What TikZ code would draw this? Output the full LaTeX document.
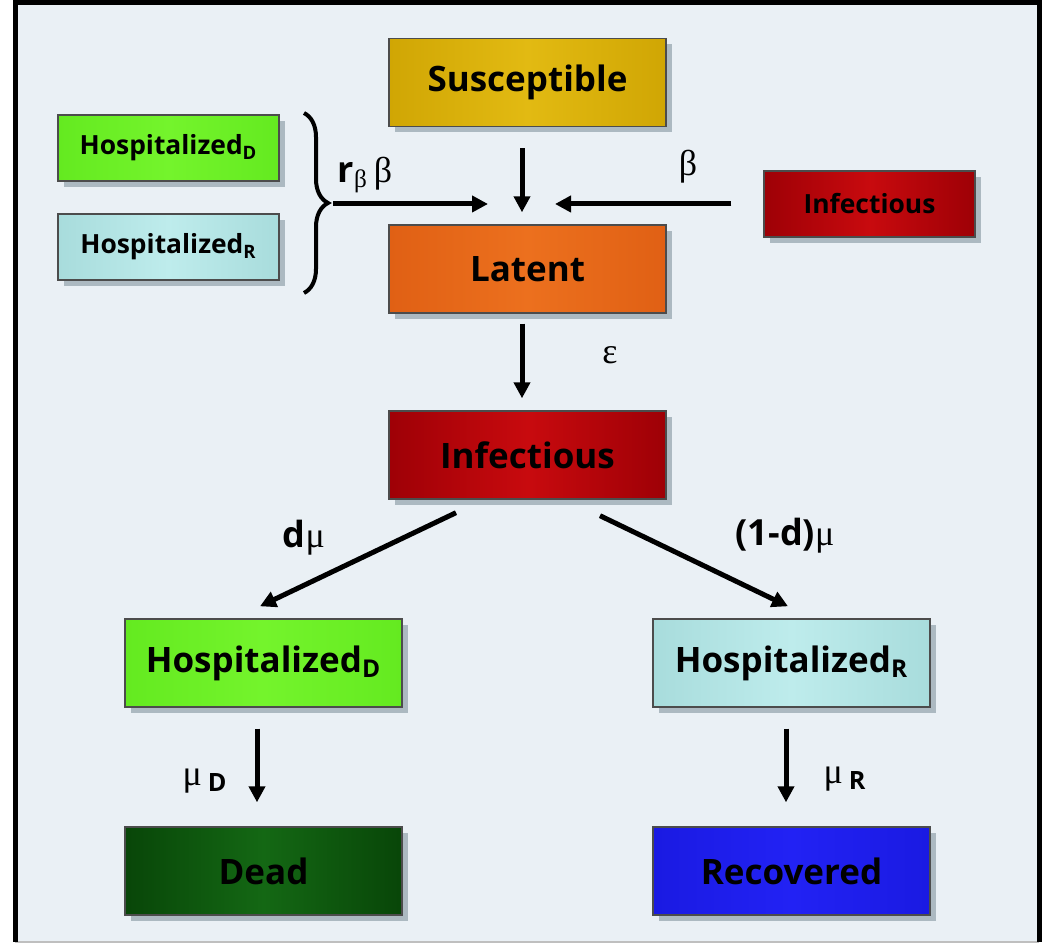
\documentclass[tikz,border=0pt]{standalone}
\usepackage{fontspec}
\setsansfont{Open Sans}
\newfontfamily\grk{Liberation Serif}
\usetikzlibrary{arrows.meta,shadows,decorations.pathreplacing}

\definecolor{panelbg}{RGB}{234,240,245}
\definecolor{shadowc}{RGB}{30,60,75}
\definecolor{suscD}{RGB}{208,166,4}
\definecolor{suscL}{RGB}{226,186,18}
\definecolor{latD}{RGB}{224,96,20}
\definecolor{latL}{RGB}{236,112,30}
\definecolor{infD}{RGB}{158,0,6}
\definecolor{infL}{RGB}{200,10,14}
\definecolor{hdD}{RGB}{100,234,32}
\definecolor{hdL}{RGB}{116,244,44}
\definecolor{hrD}{RGB}{168,220,220}
\definecolor{hrL}{RGB}{190,236,236}
\definecolor{deadD}{RGB}{8,70,8}
\definecolor{deadL}{RGB}{20,104,20}
\definecolor{recD}{RGB}{26,26,226}
\definecolor{recL}{RGB}{34,34,244}

\newcommand{\bsf}{\sffamily\bfseries}

\tikzset{
  box/.style={draw=black!70, line width=0.7pt, minimum width=138.5pt, minimum height=44pt,
    inner sep=0pt, font=\fontsize{17.5}{17.5}\selectfont\bsf,
    drop shadow={shadow xshift=3pt, shadow yshift=-3pt, opacity=0.3, fill=shadowc}},
  smallbox/.style={box, minimum width=110.5pt, minimum height=33pt,
    font=\fontsize{13.2}{13.2}\selectfont\bsf},
  shade2/.style args={#1/#2}{left color=#1, right color=#1, middle color=#2},
  flow/.style={line width=2.5pt, -{Triangle[length=8pt,width=8pt]}},
  rate/.style={font=\fontsize{18}{18}\selectfont\grk, inner sep=1pt},
}

\begin{document}
\begin{tikzpicture}[x=0.5pt, y=-0.5pt]
  \useasboundingbox (0,0) rectangle (1046,945);

  % panel and frame
  \fill[white] (0,0) rectangle (1046,945);
  \fill[panelbg] (15,3) rectangle (1039,942);
  \draw[black!25, line width=0.8pt] (15,942) -- (1039,942);
  \draw[line width=2.5pt] (15,942) -- (15,3) -- (1039,3) -- (1039,942);

  % compartments
  \node[box, shade2=suscD/suscL] (susc) at (527.5,82.5) {Susceptible};
  \node[box, shade2=latD/latL] (lat) at (527.5,269) {Latent};
  \node[box, shade2=infD/infL] (inf) at (527.5,455) {Infectious};
  \node[box, shade2=hdD/hdL] (hd) at (263.5,663) {Hospitalized\textsubscript{D}};
  \node[box, shade2=hrD/hrL] (hr) at (791.5,663) {Hospitalized\textsubscript{R}};
  \node[box, shade2=deadD/deadL] (dead) at (263.5,871) {Dead};
  \node[box, shade2=recD/recL] (rec) at (791.5,871) {Recovered};

  % sources of infection
  \node[smallbox, shade2=hdD/hdL] (hdsrc) at (168.5,148) {Hospitalized\textsubscript{D}};
  \node[smallbox, shade2=hrD/hrL] (hrsrc) at (168.5,247) {Hospitalized\textsubscript{R}};
  \node[smallbox, minimum width=105.5pt, shade2=infD/infL] (infsrc) at (869.5,204) {Infectious};

  \draw[line width=2pt, decorate, decoration={brace, amplitude=12pt}] (304,113) -- (304,293);
  \coordinate (hosptip) at (333,204);
  \coordinate (meet) at (522,204);

  % flows
  \draw[flow] ([xshift=-2.75pt, yshift=-10.5pt]susc.south) -- ([xshift=-2.75pt, yshift=6pt]lat.north);
  \draw[flow, shorten >=17pt] (hosptip) -- (meet);
  \draw[flow, shorten <=16pt, shorten >=16.5pt] (infsrc.west) -- (meet);
  \draw[flow] ([xshift=-2.75pt, yshift=-5pt]lat.south) -- ([xshift=-2.75pt, yshift=6pt]inf.north);
  \draw[flow] ([xshift=-35.75pt, yshift=-6.5pt]inf.south) -- ([xshift=-1.75pt, yshift=6pt]hd.north);
  \draw[flow] ([xshift=36.25pt, yshift=-8pt]inf.south) -- ([xshift=-1.75pt, yshift=6pt]hr.north);
  \draw[flow] ([xshift=-3.25pt, yshift=-10.5pt]hd.south) -- ([xshift=-3.25pt, yshift=12pt]dead.north);
  \draw[flow] ([xshift=-2.75pt, yshift=-10.5pt]hr.south) -- ([xshift=-2.75pt, yshift=12pt]rec.north);

  % rates
  \node[rate] (rbeta) at (365,175) {{\bsf r}\textsubscript{β}\,β};
  \node[rate] (beta) at (688,167) {β};
  \node[rate] (eps) at (610,355) {ε};
  \node[rate] (dmu) at (304,538) {{\bsf d}μ};
  \node[rate] (omdmu) at (785,536) {{\bsf (1-d)}μ};
  \node[rate] (muD) at (205,781) {μ\,{\bsf\textsubscript{D}}};
  \node[rate] (muR) at (845,779) {μ\,{\bsf\textsubscript{R}}};
\end{tikzpicture}
\end{document}
